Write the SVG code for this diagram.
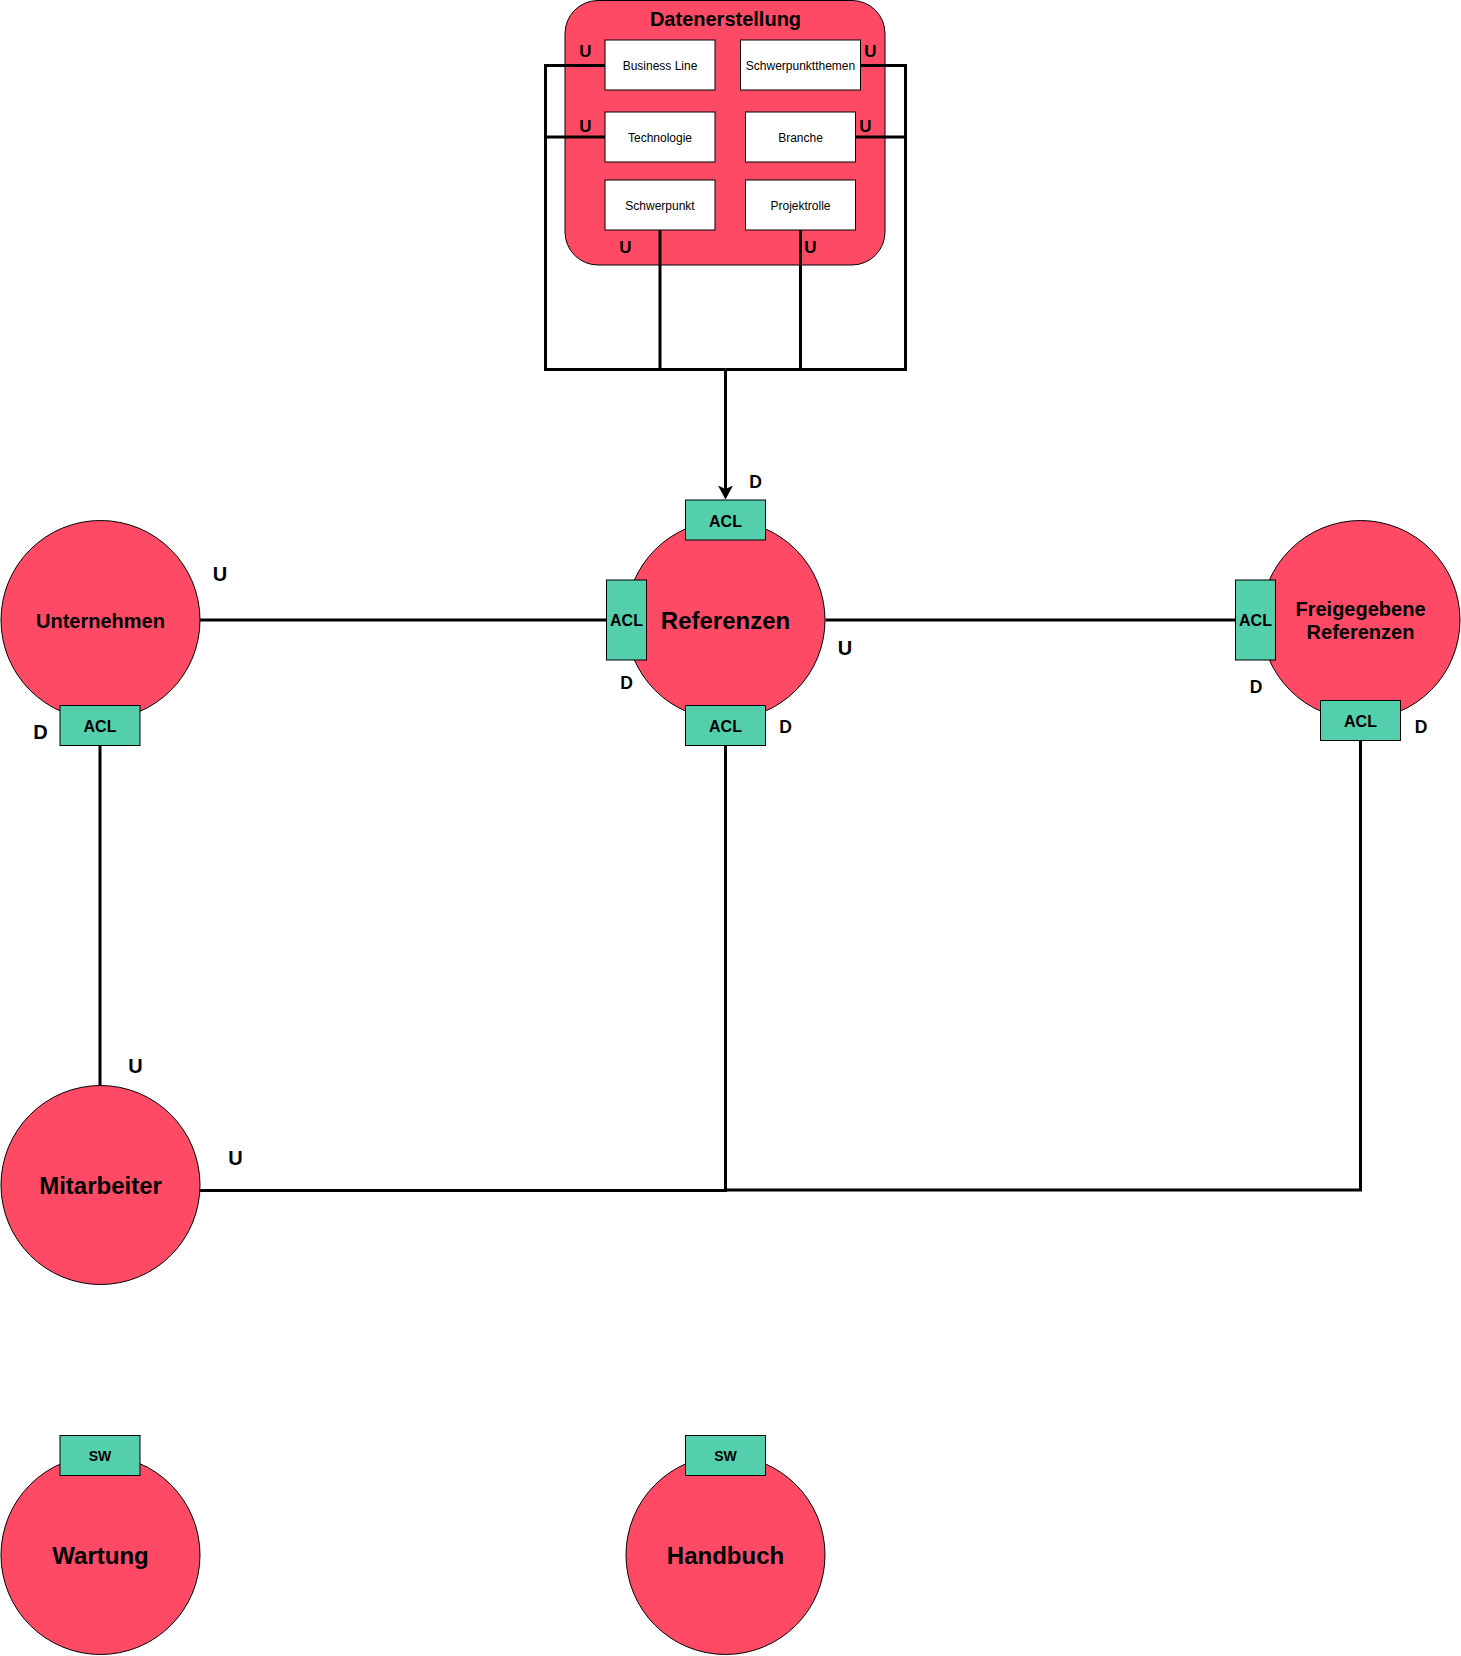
<svg xmlns="http://www.w3.org/2000/svg" width="1461" height="1656" viewBox="0 0 1461 1656">
<style>
.ctx{fill:#FF4A66;stroke:#000;stroke-width:1}
.acl{fill:#53CFAB;stroke:#000;stroke-width:1}
.box{fill:#fff;stroke:#000;stroke-width:1}
.ln{fill:none;stroke:#000;stroke-width:3}
text{font-family:"Liberation Sans",Arial,sans-serif;fill:#000;text-anchor:middle}
.t12{font-size:12px}
.t14{font-size:14px;font-weight:bold}
.t16{font-size:16px;font-weight:bold}
.t17{font-size:17px;font-weight:bold}
.t18{font-size:17.5px;font-weight:bold}
.t20{font-size:20px;font-weight:bold}
.t24{font-size:24px;font-weight:bold}
</style>
<defs>
<marker id="arr" markerUnits="userSpaceOnUse" markerWidth="16" markerHeight="16" refX="3.5" refY="7.5" orient="auto">
<path d="M0,0 L14,7.5 L0,15 L3.5,7.5 Z" fill="#000"/>
</marker>
</defs>
<rect width="1461" height="1656" fill="#fff"/>

<g id="datenerstellung">
<rect class="ctx" x="565" y="0.5" width="320" height="264.5" rx="33" ry="33"/>
<text class="t20" x="725.5" y="26">Datenerstellung</text>
</g>
<g id="business-line"><rect class="box" x="605" y="40" width="110" height="50"/><text class="t12" x="660" y="69.5">Business Line</text></g>
<g id="schwerpunktthemen"><rect class="box" x="740.5" y="40" width="120" height="50"/><text class="t12" x="800.5" y="69.5">Schwerpunktthemen</text></g>
<g id="technologie"><rect class="box" x="605" y="112" width="110" height="50"/><text class="t12" x="660" y="141.5">Technologie</text></g>
<g id="branche"><rect class="box" x="745.5" y="112" width="110" height="50"/><text class="t12" x="800.5" y="141.5">Branche</text></g>
<g id="schwerpunkt"><rect class="box" x="605" y="180" width="110" height="50"/><text class="t12" x="660" y="209.5">Schwerpunkt</text></g>
<g id="projektrolle"><rect class="box" x="745.5" y="180" width="110" height="50"/><text class="t12" x="800.5" y="209.5">Projektrolle</text></g>

<g id="connectors">
<path class="ln" d="M605,65.5 H545.5 V369.5 H725.5"/>
<path class="ln" d="M605,137 H545.5"/>
<path class="ln" d="M860.5,65.5 H905.5 V369.5 H725.5"/>
<path class="ln" d="M855.5,137 H905.5"/>
<path class="ln" d="M660,230 V369.5"/>
<path class="ln" d="M800.5,230 V369.5"/>
<path class="ln" d="M725.5,369.5 V489" marker-end="url(#arr)"/>
<path class="ln" d="M200,620 H606"/>
<path class="ln" d="M825.5,620 H1235"/>
<path class="ln" d="M100,745.5 V1085"/>
<path class="ln" d="M200,1190.5 H725.5 V745.5"/>
<path class="ln" d="M725.5,1190 H1360.5 V740.5"/>
</g>

<g id="unternehmen">
<circle class="ctx" cx="100.5" cy="620" r="99.5"/>
<text class="t20" x="100.5" y="627.5">Unternehmen</text>
<rect class="acl" x="60" y="705.5" width="80" height="40"/>
<text class="t16" x="100" y="731.5">ACL</text>
</g>

<g id="referenzen">
<circle class="ctx" cx="725.5" cy="620" r="99.5"/>
<text class="t24" x="725.5" y="628.5">Referenzen</text>
<rect class="acl" x="685.5" y="500" width="80" height="40"/>
<text class="t16" x="725.5" y="526.5">ACL</text>
<rect class="acl" x="606.5" y="580" width="40" height="80"/>
<text class="t16" x="626.5" y="626">ACL</text>
<rect class="acl" x="685.5" y="705.5" width="80" height="40"/>
<text class="t16" x="725.5" y="732">ACL</text>
</g>

<g id="freigegebene-referenzen">
<circle class="ctx" cx="1360.5" cy="620" r="99.5"/>
<text class="t20" x="1360.5" y="615.5">Freigegebene</text>
<text class="t20" x="1360.5" y="639">Referenzen</text>
<rect class="acl" x="1235.5" y="580" width="40" height="80"/>
<text class="t16" x="1255.5" y="626">ACL</text>
<rect class="acl" x="1320.5" y="700.5" width="80" height="40"/>
<text class="t16" x="1360.5" y="726.5">ACL</text>
</g>

<g id="mitarbeiter">
<circle class="ctx" cx="100.5" cy="1185" r="99.5"/>
<text class="t24" x="100.5" y="1193.5">Mitarbeiter</text>
</g>

<g id="wartung">
<circle class="ctx" cx="100.5" cy="1555" r="99.5"/>
<text class="t24" x="100.5" y="1564">Wartung</text>
<rect class="acl" x="60" y="1435.5" width="80" height="40"/>
<text class="t14" x="100" y="1461">SW</text>
</g>

<g id="handbuch">
<circle class="ctx" cx="725.5" cy="1555" r="99.5"/>
<text class="t24" x="725.5" y="1564">Handbuch</text>
<rect class="acl" x="685.5" y="1435.5" width="80" height="40"/>
<text class="t14" x="725.5" y="1461">SW</text>
</g>

<g id="labels">
<text class="t17" x="585.5" y="57">U</text>
<text class="t17" x="870.5" y="57">U</text>
<text class="t17" x="585.5" y="132">U</text>
<text class="t17" x="865.5" y="132">U</text>
<text class="t17" x="625.5" y="252.5">U</text>
<text class="t17" x="810.5" y="252.5">U</text>
<text class="t18" x="755.5" y="487.5">D</text>
<text class="t20" x="845" y="655">U</text>
<text class="t18" x="626.5" y="688.5">D</text>
<text class="t18" x="785.5" y="732.5">D</text>
<text class="t20" x="220" y="581">U</text>
<text class="t20" x="40.5" y="738.5">D</text>
<text class="t18" x="1256" y="692.5">D</text>
<text class="t18" x="1421" y="732.5">D</text>
<text class="t20" x="135.5" y="1072.5">U</text>
<text class="t20" x="235.5" y="1165">U</text>
</g>
</svg>
